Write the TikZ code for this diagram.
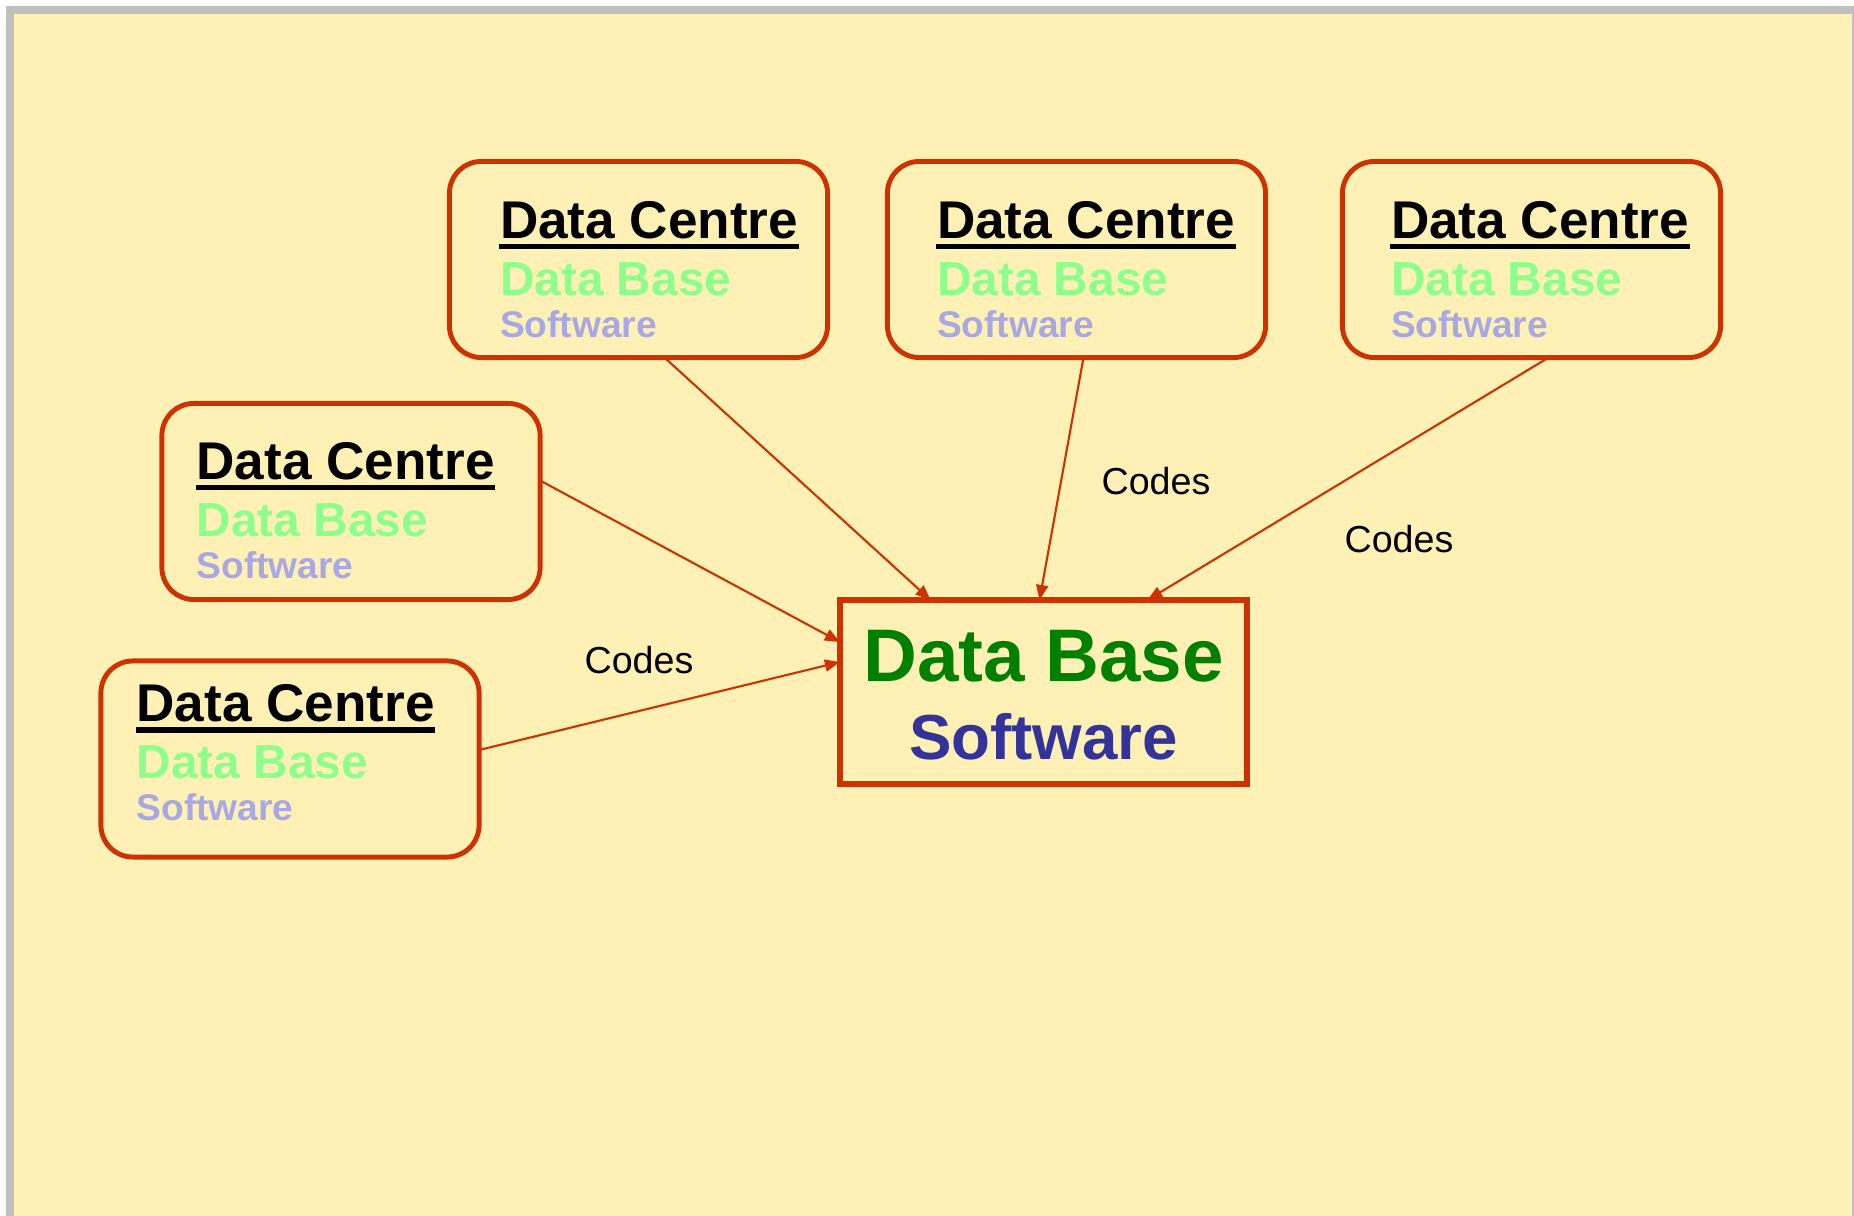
\documentclass[tikz,border=0pt]{standalone}
\usepackage{fontspec}
\setmainfont{Liberation Sans}
\usepackage{tikz}
\usetikzlibrary{arrows.meta}
\usetikzlibrary{calc}
\definecolor{paper}{RGB}{255,241,181}
\definecolor{framegray}{RGB}{192,192,192}
\definecolor{boxred}{RGB}{204,51,0}
\definecolor{lightgreen}{RGB}{140,255,140}
\definecolor{lightblue}{RGB}{168,168,228}
\definecolor{dbgreen}{RGB}{0,128,0}
\definecolor{swblue}{RGB}{51,51,153}
\tikzstyle{dcbox}=[rectangle,draw=boxred,line width=1.4pt,rounded corners=.32cm,minimum width=3.78cm,minimum height=1.96cm,inner sep=0pt,outer sep=0pt]
\tikzstyle{dctitle}=[anchor=base west,inner sep=0pt,font=\fontsize{15.1}{18}\selectfont\bfseries]
\tikzstyle{uline}=[line width=1.5pt]
\tikzstyle{dcbase}=[anchor=base west,inner sep=0pt,text=lightgreen,font=\fontsize{13.6}{16}\selectfont\bfseries]
\tikzstyle{dcsoft}=[anchor=base west,inner sep=0pt,text=lightblue,font=\fontsize{10.55}{12}\selectfont\bfseries]
\tikzstyle{mainbox}=[rectangle,draw=boxred,line width=1.7pt,minimum width=4.07cm,minimum height=1.84cm,inner sep=0pt,outer sep=0pt]
\tikzstyle{maindb}=[anchor=base,inner sep=0pt,text=dbgreen,font=\fontsize{21.2}{25}\selectfont\bfseries]
\tikzstyle{mainsw}=[anchor=base,inner sep=0pt,text=swblue,font=\fontsize{18.1}{21}\selectfont\bfseries]
\tikzstyle{codes}=[anchor=base,inner sep=0pt,font=\fontsize{10.7}{13}\selectfont]
\tikzstyle{codearrow}=[draw=boxred,line width=.6pt,-{Triangle[length=1.5mm,width=1.2mm]}]
\newcommand{\dataCentre}[4]{
	\node[dcbox] (#1) at #2 {};
	\node[dctitle] (#1c) at ($(#1.north west)+(#3,#4)$) {Data Centre};
	\draw[uline] ($(#1c.base west)+(0,8)$) -- ($(#1c.base east)+(0,8)$);
	\node[dcbase] (#1b) at ($(#1c.base west)+(0,57)$) {Data Base};
	\node[dcsoft] (#1s) at ($(#1b.base west)+(0,42)$) {Software};
}
\begin{document}
\begin{tikzpicture}[x=.01cm,y=-.01cm]
	\useasboundingbox (0,0) rectangle (1854,1216);
	\fill[framegray] (6,6) rectangle (1862,1224);
	\fill[paper] (14,14) rectangle (1852,1224);
	\dataCentre{dc1}{(638.5,259.5)}{50}{77}
	\dataCentre{dc2}{(1076.5,259.5)}{49}{77}
	\dataCentre{dc3}{(1531.5,259.5)}{48}{77}
	\dataCentre{dc4}{(351,501.5)}{34}{76}
	\dataCentre{dc5}{(290,759)}{35}{61}
	\node[mainbox] (dbase) at (1043.5,692) {};
	\node[maindb] (dbaset) at ($(dbase.north)+(0,82)$) {Data Base};
	\node[mainsw] (dbases) at ($(dbaset.base)+(0,78)$) {Software};
	\draw[codearrow] ($(dc1.south)+(26,0)$) -- ($(dbase.north)+(-113,0)$);
	\draw[codearrow] ($(dc2.south)+(7,0)$) -- ($(dbase.north)+(-4,0)$);
	\draw[codearrow] ($(dc3.south)+(17,0)$) -- ($(dbase.north)+(104,0)$);
	\draw[codearrow] ($(dc4.east)+(0,-21)$) -- ($(dbase.west)+(0,-50)$);
	\draw[codearrow] ($(dc5.east)+(0,-9)$) -- ($(dbase.west)+(0,-30)$);
	\node[codes] (code2) at (1156,495) {Codes};
	\node[codes] (code3) at (1399,553) {Codes};
	\node[codes] (code5) at (639,674) {Codes};
\end{tikzpicture}
\end{document}
